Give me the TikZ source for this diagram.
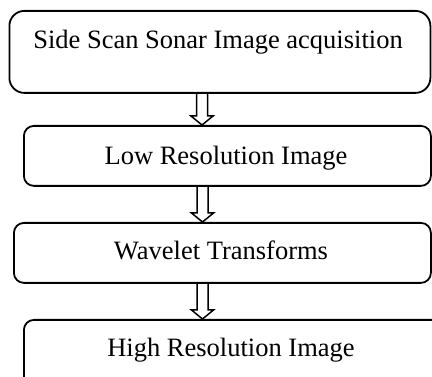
\documentclass[tikz,border=0pt]{standalone}
\usepackage{fontspec}
\setmainfont{Liberation Serif}
\usetikzlibrary{calc}
\tikzset{
  box/.style={draw=black, line width=1.8pt, rounded corners=10pt, inner sep=0pt, anchor=north west},
  lbl/.style={anchor=base, inner sep=0pt, font=\fontsize{26.5}{30}\selectfont},
  blk/.style={draw=black, line width=1.5pt, line join=miter}
}
\newcommand\flowarrow[3]{%
  \draw[blk] let \p1=(#1.south), \p2=(#2.north) in
    ({#3pt-5.5pt},\y1) -- ({#3pt-5.5pt},\y2+9pt) -- ({#3pt-11pt},\y2+9pt) --
    ({#3pt},\y2) -- ({#3pt+11pt},\y2+9pt) -- ({#3pt+5.5pt},\y2+9pt) -- ({#3pt+5.5pt},\y1);}
\begin{document}
\begin{tikzpicture}[x=1pt,y=-1pt]
\clip (0,0) rectangle (432,377);
\node[box, rounded corners=15pt, minimum width=421pt, minimum height=82pt] (b1) at (8.5,10) {};
\node[box, minimum width=407pt, minimum height=60pt] (b2) at (23,125) {};
\node[box, minimum width=417pt, minimum height=60pt] (b3) at (13,222) {};
\node[box, minimum width=440pt, minimum height=80pt] (b4) at (23,319) {};
\node[lbl] (t1) at (218,49) {Side Scan Sonar Image acquisition};
\node[lbl] (t2) at (226,165) {Low Resolution Image};
\node[lbl] (t3) at (221,260) {Wavelet Transforms};
\node[lbl] (t4) at (231,357) {High Resolution Image};
\flowarrow{b1}{b2}{202}
\flowarrow{b2}{b3}{202.5}
\flowarrow{b3}{b4}{202.5}
\end{tikzpicture}
\end{document}
